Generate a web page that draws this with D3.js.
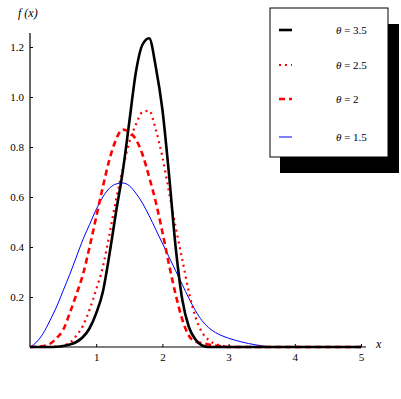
<!DOCTYPE html>
<html>
<head>
<meta charset="utf-8">
<script src="https://cdn.jsdelivr.net/npm/d3@7"></script>
<style>
  body { margin: 0; background: #fff; }
  svg { display: block; }
</style>
</head>
<body>
<div id="chart"></div>
<script>
// x grid shared by all curves
var xs = [0, 0.1, 0.2, 0.3, 0.4, 0.5, 0.6, 0.7, 0.8, 0.9,
          1.0, 1.1, 1.2, 1.3, 1.4, 1.5, 1.6, 1.7, 1.8, 1.9,
          2.0, 2.1, 2.2, 2.3, 2.4, 2.5, 2.6, 2.7, 2.8, 2.9,
          3.0, 3.1, 3.2, 3.3, 3.4, 3.5, 3.6, 4.0, 4.5, 5.0];

// f(x), one array per theta
var theta35 = [0, 0, 0, 0, 0.001, 0.004, 0.01, 0.02, 0.04, 0.075,
               0.135, 0.22, 0.37, 0.54, 0.70, 0.90, 1.10, 1.21, 1.235, 1.12,
               0.95, 0.69, 0.40, 0.19, 0.08, 0.03, 0.006, 0, 0, 0,
               0, 0, 0, 0, 0, 0, 0, 0, 0, 0];
var theta25 = [0, 0, 0, 0, 0.002, 0.006, 0.017, 0.045, 0.085, 0.15,
               0.23, 0.32, 0.45, 0.59, 0.71, 0.82, 0.89, 0.94, 0.945, 0.87,
               0.76, 0.62, 0.48, 0.35, 0.22, 0.12, 0.058, 0.028, 0.012, 0.005,
               0.002, 0, 0, 0, 0, 0, 0, 0, 0, 0];
var theta2 = [0, 0.001, 0.004, 0.012, 0.035, 0.068, 0.135, 0.21, 0.29, 0.40,
              0.52, 0.64, 0.75, 0.83, 0.87, 0.86, 0.83, 0.77, 0.68, 0.58,
              0.46, 0.33, 0.21, 0.11, 0.045, 0.022, 0.015, 0.01, 0.006, 0.002,
              0, 0, 0, 0, 0, 0, 0, 0, 0, 0];
var theta15 = [0, 0.02, 0.055, 0.105, 0.16, 0.225, 0.29, 0.36, 0.43, 0.49,
               0.55, 0.60, 0.635, 0.652, 0.656, 0.645, 0.615, 0.575, 0.525, 0.47,
               0.415, 0.36, 0.305, 0.25, 0.195, 0.145, 0.105, 0.077, 0.058, 0.045,
               0.035, 0.027, 0.02, 0.014, 0.009, 0.005, 0.001, null, null, null];

var seriesNames = ["3.5", "2.5", "2", "1.5"];
var xTicks = [1, 2, 3, 4, 5];
var yTicks = [0.2, 0.4, 0.6, 0.8, 1.0, 1.2];

var serif = "'Liberation Serif', 'DejaVu Serif', serif";
var width = 401, height = 399;
var svg = d3.select("#chart").append("svg")
	.attr("width", width)
	.attr("height", height);

var xScale = d3.scaleLinear().domain([0, 5]).range([30, 361]);
var yScale = d3.scaleLinear().domain([0, 1.2]).range([347, 47]);

// axes, Mathematica style with ticks pointing inside
var xAxis = svg.append("g")
	.attr("transform", "translate(0," + yScale(0) + ")")
	.call(d3.axisTop(xScale).tickValues(xTicks).tickSize(3).tickFormat(d3.format("d")));
xAxis.select(".domain").attr("d", "M30,0H366");
xAxis.selectAll("text").attr("y", 14).attr("dy", 0);

var yAxis = svg.append("g")
	.attr("transform", "translate(" + xScale(0) + ",0)")
	.call(d3.axisRight(yScale).tickValues(yTicks).tickSize(3).tickFormat(d3.format(".1f")));
yAxis.select(".domain").attr("d", "M0,33V347");
yAxis.selectAll("text").attr("x", -6).attr("text-anchor", "end");
svg.selectAll(".domain").attr("stroke", "#000").attr("stroke-width", 1.2);
svg.selectAll(".tick text").attr("font-family", serif).attr("font-size", 11);

svg.append("text").attr("x", 18).attr("y", 17)
	.attr("font-family", serif).attr("font-size", 12).attr("font-style", "italic").text("f (x)");
svg.append("text").attr("x", 376).attr("y", 348)
	.attr("font-family", serif).attr("font-size", 12).attr("font-style", "italic").text("x");

// curves
var styles = [
	{data: theta35, color: "#000", w: 2.6, dash: null},
	{data: theta25, color: "#ff0000", w: 2.2, dash: "2,4"},
	{data: theta2, color: "#ff0000", w: 2.6, dash: "6,4"},
	{data: theta15, color: "#0000ff", w: 1, dash: null}
];

var line = d3.line()
	.defined(function(d) { return d[1] !== null; })
	.x(function(d) { return xScale(d[0]); })
	.y(function(d) { return yScale(d[1]); })
	.curve(d3.curveMonotoneX);

var curvesG = svg.append("g");
styles.slice().reverse().forEach(function(s) {
	curvesG.append("path")
		.datum(xs.map(function(x, i) { return [x, s.data[i]]; }))
		.attr("fill", "none")
		.attr("stroke", s.color)
		.attr("stroke-width", s.w)
		.attr("stroke-dasharray", s.dash)
		.attr("d", line);
});

// legend with drop shadow
var legend = svg.append("g");
legend.append("rect").attr("x", 280).attr("y", 24).attr("width", 119).attr("height", 149).attr("fill", "#000");
legend.append("rect").attr("x", 270).attr("y", 8).attr("width", 118).attr("height", 149)
	.attr("fill", "#fff").attr("stroke", "#000").attr("stroke-width", 1);

var legendY = [30, 65, 99, 137];
styles.forEach(function(s, i) {
	legend.append("line")
		.attr("x1", 279).attr("x2", 292)
		.attr("y1", legendY[i]).attr("y2", legendY[i])
		.attr("stroke", s.color)
		.attr("stroke-width", s.w)
		.attr("stroke-dasharray", s.dash);
	var t = legend.append("text").attr("x", 336).attr("y", legendY[i] + 4)
		.attr("font-family", serif).attr("font-size", 11);
	t.append("tspan").attr("font-style", "italic").text("θ");
	t.append("tspan").text(" = " + seriesNames[i]);
});
</script>
</body>
</html>
